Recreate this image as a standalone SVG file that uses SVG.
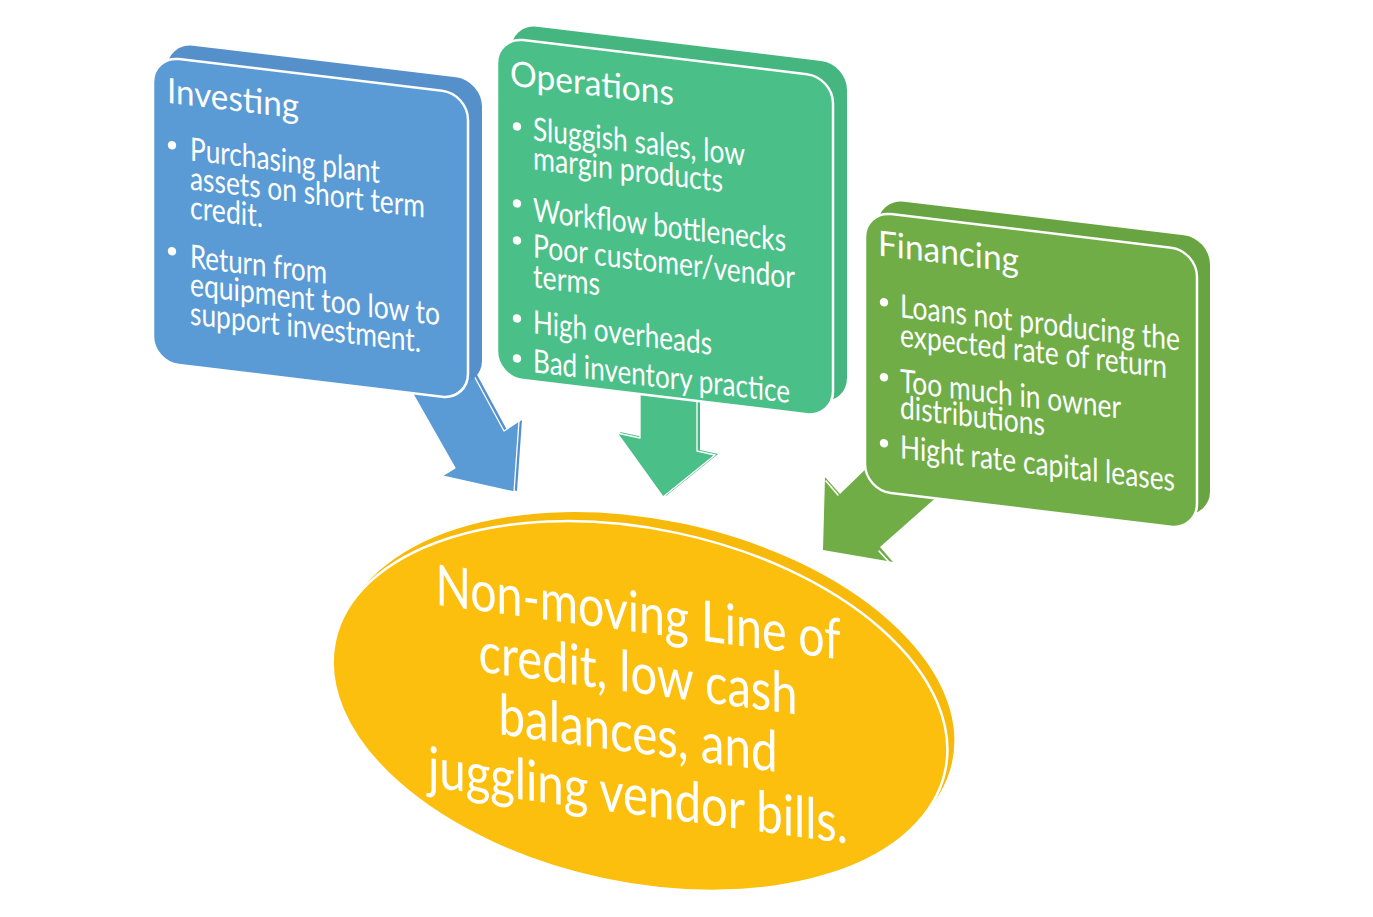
<svg xmlns="http://www.w3.org/2000/svg" width="1373" height="917" viewBox="0 0 1373 917">
<style>
.t{font-family:Lato,"Liberation Sans",sans-serif;fill:#fff}
.ti{font-size:35px}
.bd{font-size:27px}
.el{font-size:48px}
.edge{stroke:#fff;stroke-width:2.5}
.wl{fill:none;stroke:#fff;stroke-width:1.6;stroke-linecap:round}
</style>
<rect width="1373" height="917" fill="#fff"/>
<g id="connectors">
  <polygon points="408,379 458,467 445,475 517,491 522,420 507,430 475,371" fill="#5590CB"/>
  <polygon points="405,380 455,468 442,476 514,492 519,421 504,431 472,372" fill="#5B9BD5" stroke="#fff" stroke-width="1.3" stroke-linejoin="round"/>
  <polygon points="643,384 643,437 620,432 666,496 718,454 700,450 700,384" fill="#46B680"/>
  <polygon points="640,385 640,438 617,433 663,497 715,455 697,451 697,385" fill="#4BBF88" stroke="#fff" stroke-width="1.3" stroke-linejoin="round"/>
  <polygon points="875,460 840,494 825,477 823,550 893,562 880,547 940,494" fill="#70AD47"/>
  <polyline class="wl" points="826,481 838,495"/>
  <polyline class="wl" points="879,551 889,562"/>
</g>
<g id="investing" transform="translate(153,56) skewY(6.843)">
  <rect x="14" y="-15" width="315" height="306" rx="26" fill="#5590CB"/>
  <rect x="0" y="0" width="315" height="306" rx="26" fill="#5B9BD5" class="edge"/>
  <text class="t ti" x="14" y="45" textLength="132" lengthAdjust="spacingAndGlyphs">Investing</text>
  <circle cx="19" cy="87" r="4.2" fill="#fff"/>
  <circle cx="19" cy="193" r="4.2" fill="#fff"/>
  <g transform="scale(1,1.2)">
    <text class="t bd" x="37" y="83.3" textLength="190" lengthAdjust="spacingAndGlyphs">Purchasing plant</text>
    <text class="t bd" x="37" y="107.5" textLength="235" lengthAdjust="spacingAndGlyphs">assets on short term</text>
    <text class="t bd" x="37" y="131.7" textLength="73" lengthAdjust="spacingAndGlyphs">credit.</text>
    <text class="t bd" x="37" y="172.5" textLength="137" lengthAdjust="spacingAndGlyphs">Return from</text>
    <text class="t bd" x="37" y="195.8" textLength="250" lengthAdjust="spacingAndGlyphs">equipment too low to</text>
    <text class="t bd" x="37" y="220" textLength="231" lengthAdjust="spacingAndGlyphs">support investment.</text>
  </g>
</g>
<g id="operations" transform="translate(497,37) skewY(6.843)">
  <rect x="14" y="-15" width="336" height="340" rx="26" fill="#46B680"/>
  <rect x="0" y="0" width="336" height="340" rx="26" fill="#4BBF88" class="edge"/>
  <text class="t ti" x="13" y="47" textLength="164" lengthAdjust="spacingAndGlyphs">Operations</text>
  <circle cx="20" cy="87" r="4.2" fill="#fff"/>
  <circle cx="20" cy="164" r="4.2" fill="#fff"/>
  <circle cx="20" cy="201" r="4.2" fill="#fff"/>
  <circle cx="20" cy="279" r="4.2" fill="#fff"/>
  <circle cx="20" cy="319" r="4.2" fill="#fff"/>
  <g transform="scale(1,1.2)">
    <text class="t bd" x="36" y="82.5" textLength="212" lengthAdjust="spacingAndGlyphs">Sluggish sales, low</text>
    <text class="t bd" x="36" y="106.7" textLength="190" lengthAdjust="spacingAndGlyphs">margin products</text>
    <text class="t bd" x="36" y="150" textLength="253" lengthAdjust="spacingAndGlyphs">Workflow bottlenecks</text>
    <text class="t bd" x="36" y="180" textLength="262" lengthAdjust="spacingAndGlyphs">Poor customer/vendor</text>
    <text class="t bd" x="36" y="205" textLength="67" lengthAdjust="spacingAndGlyphs">terms</text>
    <text class="t bd" x="36" y="243.3" textLength="179" lengthAdjust="spacingAndGlyphs">High overheads</text>
    <text class="t bd" x="36" y="275.8" textLength="257" lengthAdjust="spacingAndGlyphs">Bad inventory practice</text>
  </g>
</g>
<g id="financing" transform="translate(865,211) skewY(6.843)">
  <rect x="13" y="-14" width="332" height="279" rx="26" fill="#68A442"/>
  <rect x="0" y="0" width="332" height="279" rx="26" fill="#70AD47" class="edge"/>
  <text class="t ti" x="13" y="43" textLength="141" lengthAdjust="spacingAndGlyphs">Financing</text>
  <circle cx="19" cy="89" r="4.2" fill="#fff"/>
  <circle cx="19" cy="164" r="4.2" fill="#fff"/>
  <circle cx="19" cy="230" r="4.2" fill="#fff"/>
  <g transform="scale(1,1.2)">
    <text class="t bd" x="35" y="85" textLength="280" lengthAdjust="spacingAndGlyphs">Loans not producing the</text>
    <text class="t bd" x="35" y="109.2" textLength="267" lengthAdjust="spacingAndGlyphs">expected rate of return</text>
    <text class="t bd" x="35" y="147.5" textLength="221" lengthAdjust="spacingAndGlyphs">Too much in owner</text>
    <text class="t bd" x="35" y="169.2" textLength="145" lengthAdjust="spacingAndGlyphs">distributions</text>
    <text class="t bd" x="35" y="202.5" textLength="275" lengthAdjust="spacingAndGlyphs">Hight rate capital leases</text>
  </g>
</g>
<g id="result">
  <ellipse cx="647" cy="697" rx="312" ry="177" transform="rotate(12 647 697)" fill="#F7B90A"/>
  <ellipse cx="640" cy="706" rx="312" ry="177" transform="rotate(12 640 706)" fill="#FDBF0D" class="edge"/>
  <g transform="skewY(7.69) scale(1,1.18)">
    <text class="t el" x="638" y="462.7" text-anchor="middle" textLength="405" lengthAdjust="spacingAndGlyphs">Non-moving Line of</text>
    <text class="t el" x="638" y="514.4" text-anchor="middle" textLength="319" lengthAdjust="spacingAndGlyphs">credit, low cash</text>
    <text class="t el" x="638" y="565.3" text-anchor="middle" textLength="279" lengthAdjust="spacingAndGlyphs">balances, and</text>
    <text class="t el" x="638" y="617.8" text-anchor="middle" textLength="420" lengthAdjust="spacingAndGlyphs">juggling vendor bills.</text>
  </g>
</g>
</svg>
